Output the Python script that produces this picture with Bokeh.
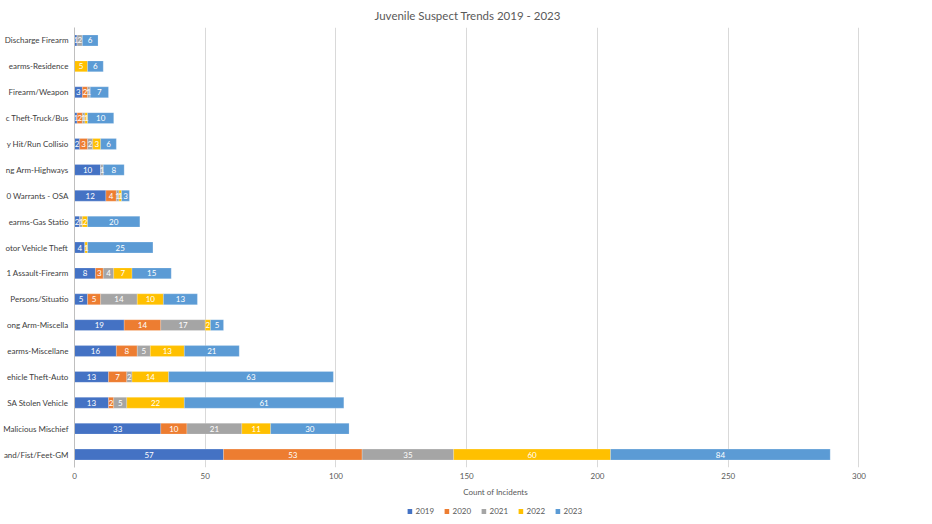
import numpy as np
from bokeh.plotting import figure
from bokeh.layouts import column
from bokeh.models import ColumnDataSource, Legend, LegendItem, Range1d, FactorRange, FixedTicker
from bokeh.core.properties import value
from bokeh.embed import file_html
from bokeh.resources import INLINE

categories = [
    "Discharge Firearm", "earms-Residence", "Firearm/Weapon", "c Theft-Truck/Bus",
    "y Hit/Run Collisio", "ng Arm-Highways", "0 Warrants - OSA", "earms-Gas Statio",
    "otor Vehicle Theft", "1 Assault-Firearm", "Persons/Situatio", "ong Arm-Miscella",
    "earms-Miscellane", "ehicle Theft-Auto", "SA Stolen Vehicle", "Malicious Mischief",
    "and/Fist/Feet-GM",
]
years = ["2019", "2020", "2021", "2022", "2023"]
v2019 = [1, 0, 3, 1, 2, 10, 12, 2, 4, 8, 5, 19, 16, 13, 13, 33, 57]
v2020 = [0, 0, 2, 2, 3, 0, 4, 0, 0, 3, 5, 14, 8, 7, 2, 10, 53]
v2021 = [2, 0, 1, 1, 2, 1, 1, 1, 0, 4, 14, 17, 5, 2, 5, 21, 35]
v2022 = [0, 5, 0, 1, 3, 0, 1, 2, 1, 7, 10, 2, 13, 14, 22, 11, 60]
v2023 = [6, 6, 7, 10, 6, 8, 3, 20, 25, 15, 13, 5, 21, 63, 61, 30, 84]
x_ticks = [0, 50, 100, 150, 200, 250, 300]
colors = ["#4472C4", "#ED7D31", "#A5A5A5", "#FFC000", "#5B9BD5"]

series = [v2019, v2020, v2021, v2022, v2023]
data = {"cat": categories}
for y, s in zip(years, series):
    data[y] = s
source = ColumnDataSource(data)

FONT = "Lato"

p = figure(width=916, height=504, output_backend="svg", toolbar_location=None,
           y_range=FactorRange(*reversed(categories)), x_range=Range1d(0, 322),
           min_border_left=0, min_border_right=0, min_border_top=22,
           min_border_bottom=37)
p.title.text = "Juvenile Suspect Trends 2019 - 2023"
p.title.align = "left"
p.title.offset = 300
p.title.text_font = FONT
p.title.text_font_size = "11.5px"
p.title.text_font_style = "normal"
p.title.text_color = "#595959"
p.title.standoff = 12
p.outline_line_color = None

rends = p.hbar_stack(years, y="cat", height=0.42, color=colors, source=source,
                     line_color="white", line_width=0.5, line_alpha=0.4)

# segment value labels
arr = np.array(series, dtype=float)
cum = np.cumsum(arr, axis=0)
xs, ys, ts = [], [], []
for i in range(len(years)):
    for j, c in enumerate(categories):
        if arr[i, j] > 0:
            xs.append(cum[i, j] - arr[i, j] / 2)
            ys.append(c)
            ts.append(str(int(arr[i, j])))
p.text(x=xs, y=ys, text=ts, text_align="center", text_baseline="middle",
       text_color="white", text_font_size="8px", text_font=value(FONT))

p.yaxis.axis_line_color = "#BFBFBF"
p.yaxis.major_tick_line_color = None
p.yaxis.minor_tick_line_color = None
p.yaxis.major_tick_out = 0
p.yaxis.major_tick_in = 0
p.yaxis.major_label_text_font = FONT
p.yaxis.major_label_text_font_size = "8px"
p.yaxis.major_label_text_color = "#404040"
p.yaxis.major_label_standoff = 6
p.ygrid.grid_line_color = None
p.xgrid.grid_line_color = "#D9D9D9"
p.xaxis.ticker = FixedTicker(ticks=x_ticks)
p.xaxis.axis_line_color = None
p.xaxis.major_tick_line_color = None
p.xaxis.minor_tick_line_color = None
p.xaxis.major_tick_out = 0
p.xaxis.major_label_standoff = 5
p.xaxis.major_label_text_font = FONT
p.xaxis.major_label_text_font_size = "8px"
p.xaxis.major_label_text_color = "#595959"
p.xaxis.axis_label = "Count of Incidents"
p.xaxis.axis_label_text_font = FONT
p.xaxis.axis_label_text_font_size = "8px"
p.xaxis.axis_label_text_font_style = "normal"
p.xaxis.axis_label_text_color = "#595959"
p.xaxis.axis_label_standoff = 5

# legend in a thin strip figure below
p2 = figure(width=916, height=10, output_backend="svg", toolbar_location=None,
            min_border=0, x_range=Range1d(0, 1), y_range=Range1d(0, 1),
            margin=(2, 0, 0, 0))
p2.outline_line_color = None
p2.background_fill_alpha = 0
p2.border_fill_alpha = 0
p2.axis.visible = False
p2.grid.grid_line_color = None
lrends = [p2.hbar(y=[0.5], left=[0], right=[0], height=0, fill_color=c, line_color=None)
          for c in colors]
legend = Legend(items=[LegendItem(label=y, renderers=[r]) for y, r in zip(years, lrends)],
                orientation="horizontal", location="center",
                glyph_width=6, glyph_height=6, label_text_font=FONT,
                label_text_font_size="8px", label_text_color="#595959",
                border_line_color=None, background_fill_alpha=0,
                spacing=8, padding=0, margin=0, label_standoff=3,
                label_height=8)
p2.add_layout(legend)

layout = column(p, p2, spacing=0)
open("out.html", "w").write(file_html(layout, INLINE))
